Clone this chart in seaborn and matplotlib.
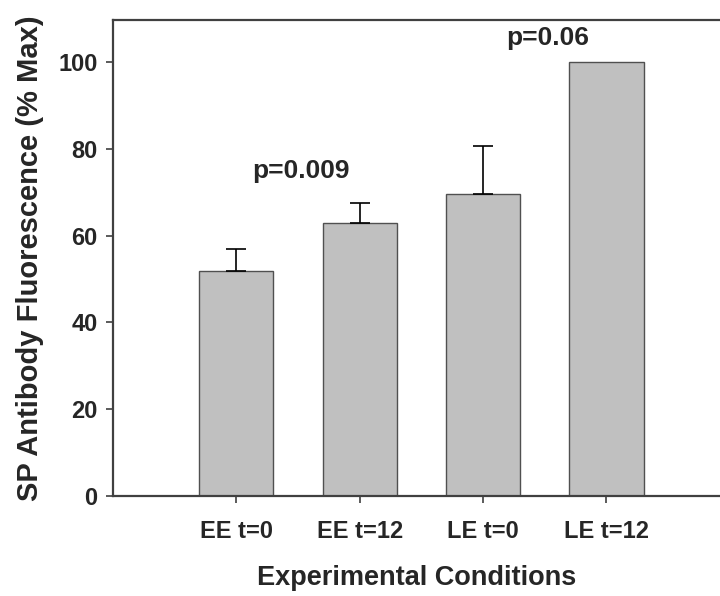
import numpy as np
import pandas as pd
import seaborn as sns
import matplotlib.pyplot as plt

conditions = ["EE t=0", "EE t=12", "LE t=0", "LE t=12"]
means = [51.8, 62.9, 69.6, 100.0]
err_up = [5.2, 4.7, 11.1, 0.0]
p_labels = ["p=0.009", "p=0.06"]
p_x = [0.52, 2.52]
p_y = [75.0, 105.5]

sns.set_style("white")
plt.rcParams["font.family"] = ["Liberation Sans", "DejaVu Sans"]
plt.rcParams["font.weight"] = "bold"

df = pd.DataFrame({"cond": conditions, "val": means})

fig = plt.figure(figsize=(7.2, 5.96), dpi=100)
ax = fig.add_axes([113 / 720, 100 / 596, 607 / 720, 476 / 596])

sns.barplot(
    data=df,
    x="cond",
    y="val",
    color="#c0c0c0",
    saturation=1,
    width=0.6,
    edgecolor="#505050",
    linewidth=1,
    errorbar=None,
    ax=ax,
)
xs = np.arange(len(conditions))
mask = np.array(err_up) > 0
ax.errorbar(
    xs[mask],
    np.array(means)[mask],
    yerr=[np.zeros(mask.sum()), np.array(err_up)[mask]],
    fmt="none",
    ecolor="black",
    elinewidth=1.2,
    capsize=7,
    capthick=1.2,
)

for t, x, y in zip(p_labels, p_x, p_y):
    ax.text(x, y, t, ha="center", va="center", fontsize=19, fontweight="bold")

ax.set_xlim(-1, 3.92)
ax.set_ylim(0, 109.7)
ax.set_yticks([0, 20, 40, 60, 80, 100])
ax.tick_params(axis="both", direction="out", length=5, width=1.2, color="#404040",
               labelsize=17, left=True, bottom=True)
ax.tick_params(axis="x", pad=12)
ax.tick_params(axis="y", pad=6)
for lab in ax.get_xticklabels() + ax.get_yticklabels():
    lab.set_fontweight("bold")

for s in ["left", "bottom", "top"]:
    ax.spines[s].set_color("#404040")
    ax.spines[s].set_linewidth(1.6)
ax.spines["right"].set_visible(False)

ax.set_xlabel("Experimental Conditions", fontsize=19.5, fontweight="bold", labelpad=16)
ax.set_ylabel("SP Antibody Fluorescence (% Max)", fontsize=21, fontweight="bold", labelpad=10)

fig.savefig("out.png", dpi=100)
